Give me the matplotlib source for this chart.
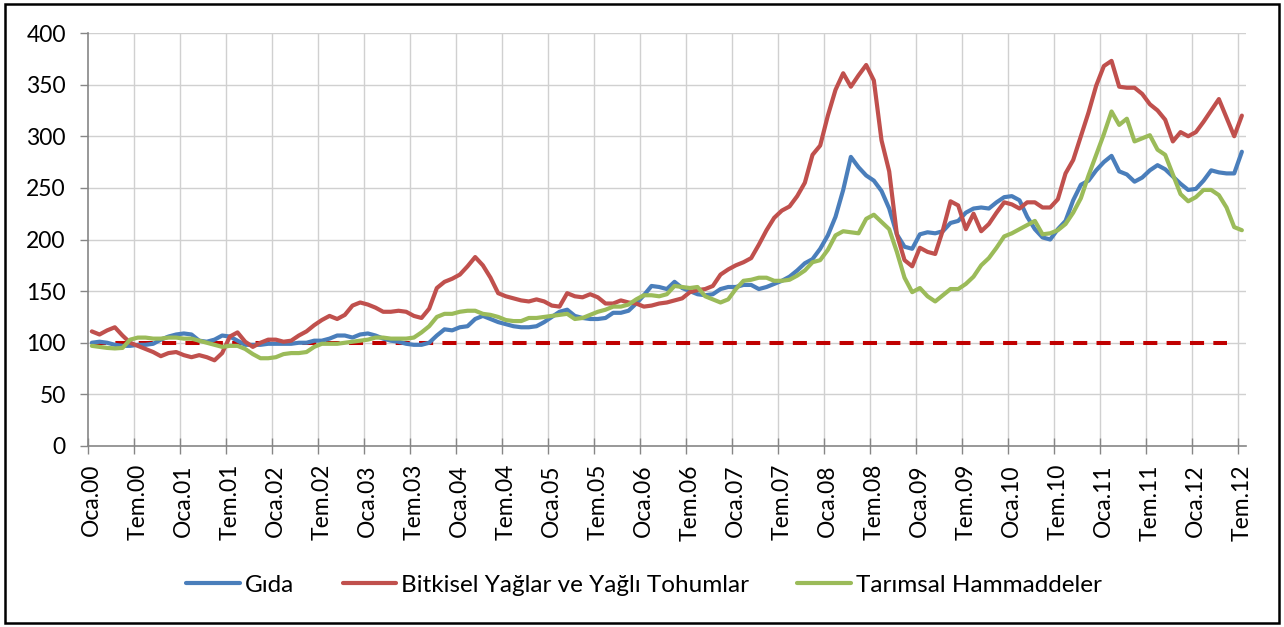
import matplotlib
matplotlib.use("Agg")
import matplotlib.pyplot as plt
from matplotlib.patches import Rectangle
from matplotlib.lines import Line2D

plt.rcParams['font.family'] = ['Lato', 'DejaVu Sans']

# ---- data (monthly index, Oca.00 .. Tem.12) ----
gida = [100, 101, 100, 98, 97, 97, 98, 98, 99, 103,
        106, 108, 109, 108, 102, 101, 103, 107, 106, 102,
        98, 98, 98, 99, 99, 99, 99, 100, 100, 102,
        102, 104, 107, 107, 105, 108, 109, 107, 104, 102,
        101, 99, 98, 98, 100, 107, 113, 112, 115, 116,
        123, 126, 123, 120, 118, 116, 115, 115, 116, 120,
        125, 130, 132, 126, 124, 123, 123, 124, 129, 129,
        131, 138, 146, 155, 154, 152, 159, 153, 150, 147,
        146, 147, 152, 154, 154, 156, 156, 152, 154, 157,
        160, 164, 170, 177, 181, 191, 204, 222, 248, 280,
        270, 262, 257, 247, 230, 205, 193, 191, 205, 207,
        206, 208, 216, 218, 226, 230, 231, 230, 236, 241,
        242, 238, 222, 210, 202, 200, 210, 218, 238, 253,
        257, 267, 275, 281, 266, 263, 256, 260, 267, 272,
        268, 261, 254, 248, 249, 257, 267, 265, 264, 264, 285]

bitkisel = [111, 108, 112, 115, 107, 100, 97, 94, 91, 87,
            90, 91, 88, 86, 88, 86, 83, 90, 106, 110,
            101, 96, 100, 103, 103, 101, 102, 107, 111, 117,
            122, 126, 123, 127, 136, 139, 137, 134, 130, 130,
            131, 130, 126, 124, 133, 153, 159, 162, 166, 174,
            183, 175, 163, 148, 145, 143, 141, 140, 142, 140,
            136, 135, 148, 145, 144, 147, 144, 138, 138, 141,
            139, 138, 135, 136, 138, 139, 141, 143, 149, 151,
            152, 155, 166, 171, 175, 178, 182, 195, 209, 221,
            228, 232, 242, 255, 282, 291, 320, 345, 361, 348,
            359, 369, 354, 296, 266, 205, 180, 174, 192, 188,
            186, 209, 237, 233, 210, 225, 208, 215, 226, 236,
            234, 230, 236, 236, 231, 231, 239, 264, 277, 300,
            323, 349, 368, 373, 348, 347, 347, 341, 331, 325,
            316, 295, 304, 300, 304, 314, 325, 336, 318, 300, 320]

tarimsal = [97, 96, 95, 94.5, 95, 103, 105, 105, 104, 104,
            105, 105, 104, 104, 102, 100, 98, 96, 97, 97,
            94, 89, 85, 85, 86, 89, 90, 90, 91, 96,
            99, 99, 99, 100, 101, 102, 103, 105, 105, 104,
            104, 104, 105, 110, 116, 125, 128, 128, 130, 131,
            131, 128, 127, 125, 122, 121, 121, 124, 124, 125,
            126, 127, 128, 123, 124, 127, 130, 132, 135, 135,
            137, 142, 146, 146, 145, 147, 155, 154, 153, 154,
            145, 142, 139, 142, 152, 160, 161, 163, 163, 160,
            160, 161, 165, 170, 178, 180, 190, 204, 208, 207,
            206, 220, 224, 217, 210, 188, 163, 149, 153, 145,
            140, 146, 152, 152, 157, 164, 175, 182, 192, 203,
            206, 210, 214, 218, 205, 206, 209, 215, 226, 240,
            262, 282, 302, 324, 311, 317, 295, 298, 301, 287,
            282, 263, 244, 237, 241, 248, 248, 243, 231, 212, 209]

reference = [100] * 149

tick_labels = ["Oca.00", "Tem.00", "Oca.01", "Tem.01", "Oca.02", "Tem.02",
               "Oca.03", "Tem.03", "Oca.04", "Tem.04", "Oca.05", "Tem.05",
               "Oca.06", "Tem.06", "Oca.07", "Tem.07", "Oca.08", "Tem.08",
               "Oca.09", "Tem.09", "Oca.10", "Tem.10", "Oca.11", "Tem.11",
               "Oca.12", "Tem.12"]

series_names = ["Gıda", "Bitkisel Yağlar ve Yağlı Tohumlar", "Tarımsal Hammaddeler"]
colors = ["#4A7EBB", "#C0504D", "#9BBB59"]

# ---- figure ----
W, H = 1284, 627
fig = plt.figure(figsize=(W / 100, H / 100), dpi=100)
fig.patch.set_facecolor("white")

left, right, top, bottom = 88, 1245.7, 33, 446
ax = fig.add_axes([left / W, 1 - bottom / H, (right - left) / W, (bottom - top) / H])

n = len(gida)
x = list(range(n))

ax.plot(range(len(reference)), reference, color="#C00000", lw=2.9,
        linestyle=(0, (3.5, 2.3)), solid_capstyle="butt", dash_capstyle="butt", zorder=2)
for vals, c in zip([gida, bitkisel, tarimsal], colors):
    ax.plot(x, vals, color=c, lw=3.0, solid_capstyle="round",
            solid_joinstyle="round", zorder=3)

ax.set_xlim(-0.5, n - 0.5)
ax.set_ylim(0, 400)

# y axis
ax.set_yticks(range(0, 401, 50))
ax.tick_params(axis="y", direction="out", length=6, width=1.0, color="#868686",
               pad=10, labelsize=16.5)
# x axis: labels at category centers, ticks/grid at boundaries
label_pos = list(range(0, n, 6))
ax.set_xticks(label_pos)
ax.set_xticklabels(tick_labels[:len(label_pos)], rotation=90, va="top", ha="center")
ax.tick_params(axis="x", which="major", length=0, pad=13, labelsize=16.5)
ax.set_xticks([p - 0.5 for p in label_pos], minor=True)
ax.tick_params(axis="x", which="minor", direction="inout", length=12, width=1.0,
               color="#868686")

ax.grid(False)
for yv in range(50, 401, 50):
    ax.axhline(yv, color="#D0D0D0", lw=1.0, zorder=0)
for xv in [p - 0.5 for p in label_pos][1:]:
    ax.axvline(xv, color="#D0D0D0", lw=1.0, zorder=0)

for s in ["top", "right"]:
    ax.spines[s].set_visible(False)
for s in ["left", "bottom"]:
    ax.spines[s].set_color("#868686")
    ax.spines[s].set_linewidth(1.2)

# legend
handles = [Line2D([0], [0], color=c, lw=3.0, solid_capstyle="round") for c in colors]
fig.legend(handles, series_names, loc="center", bbox_to_anchor=(644 / W, 1 - 585 / H),
           ncol=3, frameon=False, fontsize=17.5, handlelength=2.2, handletextpad=0.2,
           columnspacing=2.0)

# outer border
fig.add_artist(Rectangle((5 / W, 4 / H), (W - 10) / W, (H - 8) / H,
                         transform=fig.transFigure, fill=False, edgecolor="black",
                         lw=1.8))

fig.savefig("out.png", dpi=100, facecolor="white")
